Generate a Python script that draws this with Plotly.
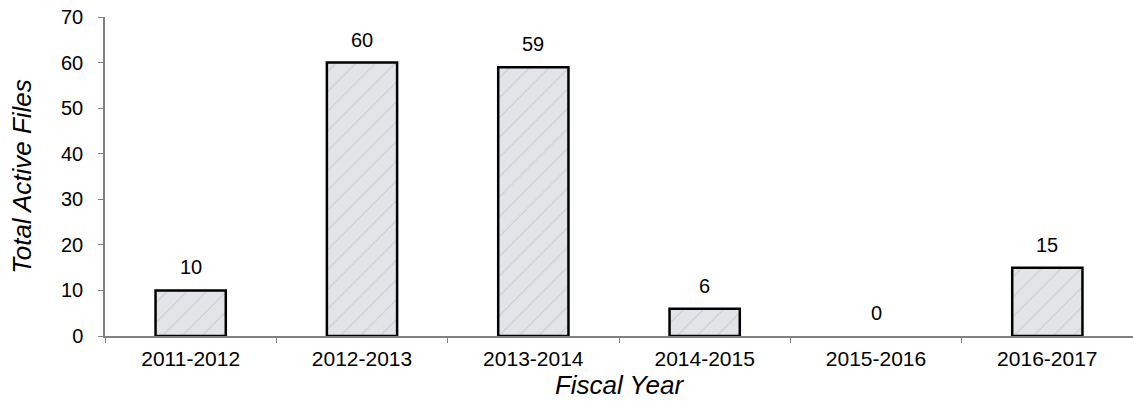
import plotly.graph_objects as go

years = ["2011-2012", "2012-2013", "2013-2014", "2014-2015", "2015-2016", "2016-2017"]
active_files = [10, 60, 59, 6, 0, 15]
y_ticks = [0, 10, 20, 30, 40, 50, 60, 70]

FONT = "Liberation Sans, Arial, sans-serif"

fig = go.Figure()
fig.add_trace(go.Bar(
    x=years,
    y=active_files,
    cliponaxis=False,
    marker=dict(
        color="#dfe2e5",
        line=dict(color="black", width=[2.5 if v > 0 else 0 for v in active_files]),
        pattern=dict(shape="/", fgcolor="#c9ccd0", bgcolor="#e2e4e7", size=14, solidity=0.08, fillmode="replace"),
    ),
))

for yr, v in zip(years, active_files):
    fig.add_annotation(
        x=yr, y=v, text=str(v), showarrow=False,
        yanchor="bottom", yshift=10,
        font=dict(family=FONT, size=20, color="black"),
    )

fig.update_layout(
    width=1133, height=402,
    margin=dict(l=105, r=0, t=17, b=66),
    paper_bgcolor="white", plot_bgcolor="white",
    bargap=0.59,
    showlegend=False,
    font=dict(family=FONT, size=20, color="black"),
)
fig.update_xaxes(
    showline=True, linecolor="#808080", linewidth=1.5,
    ticks="outside", tickson="boundaries", ticklen=5, tickcolor="#808080",
    ticklabelstandoff=3,
    tickfont=dict(family=FONT, size=21, color="black"),
    title=dict(text="<i>Fiscal Year</i>", font=dict(family=FONT, size=26, color="black"), standoff=5),
    showgrid=False,
)
fig.update_yaxes(
    range=[0, 70], tickvals=y_ticks,
    showline=True, linecolor="#808080", linewidth=1.5,
    ticks="outside", ticklen=5, tickcolor="#808080",
    ticklabelstandoff=11,
    tickfont=dict(family=FONT, size=20, color="black"),
    title=dict(text="<i>Total Active Files</i>", font=dict(family=FONT, size=26, color="black"), standoff=22),
    showgrid=False, zeroline=False,
)

fig.write_html("out.html")
